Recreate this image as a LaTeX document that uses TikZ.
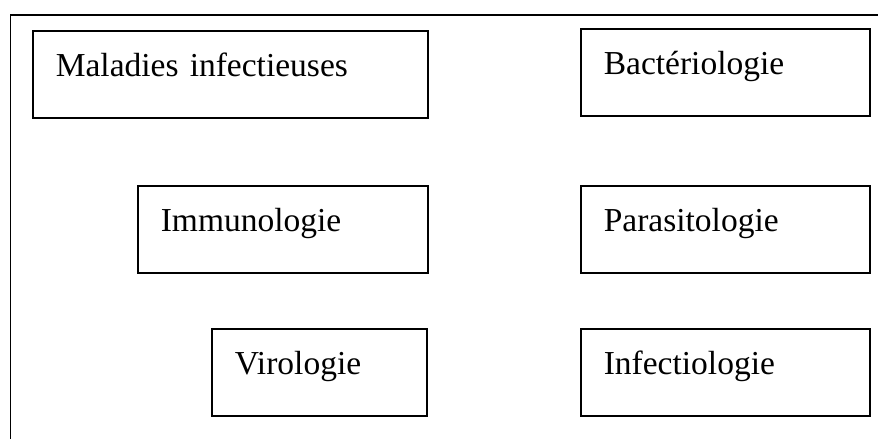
\documentclass[tikz,border=0pt]{standalone}
\usepackage{fontspec}
\setmainfont{Liberation Serif}
\usetikzlibrary{positioning}

\begin{document}
\begin{tikzpicture}[x=1pt, y=-1pt,
    field/.style={draw, line width=1.6pt, anchor=north west, align=left, inner xsep=23pt, inner ysep=0pt, text height=46pt, text depth=41pt, font=\fontsize{33.5}{40}\selectfont}
]
    \useasboundingbox (0,0) rectangle (878,439);
    \coordinate (fb) at (10.7,439);
    \coordinate (fc) at (10.7,15);
    \coordinate (fr) at (878,15);
    \draw[line width=1.2pt] (fb) -- (fc) -- (fr);
    \node[field, text width=349pt] (mal) at (32,30) {Maladies infectieuses};
    \node[field, text width=243pt] (bac) at (580,28) {Bactériologie};
    \node[field, text width=244pt] (imm) at (137,185) {Immunologie};
    \node[field, text width=243pt] (par) at (580,185) {Parasitologie};
    \node[field, text width=169pt] (vir) at (211,328) {Virologie};
    \node[field, text width=243pt] (inf) at (580,328) {Infectiologie};
\end{tikzpicture}
\end{document}
